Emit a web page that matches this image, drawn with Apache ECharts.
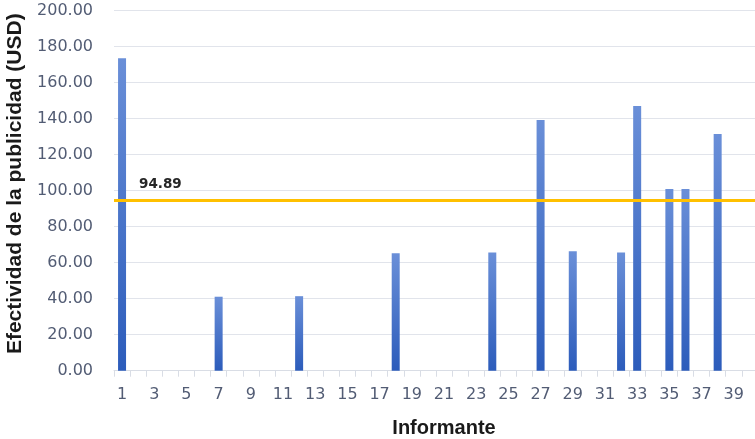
<!DOCTYPE html>
<html>
<head>
<meta charset="utf-8">
<script src="https://cdn.jsdelivr.net/npm/echarts@6/dist/echarts.min.js"></script>
<style>
  html, body { margin: 0; padding: 0; background: #ffffff; overflow: hidden; }
  #chart { width: 755px; height: 439px; }
</style>
</head>
<body>
<div id="chart"></div>
<script>
// Informant numbers along the x axis
const informantes = Array.from({ length: 41 }, (_, i) => String(i + 1));

// Advertising effectiveness per informant (USD); zero where no value was recorded
const efectividad = [
  173.6, 0, 0, 0, 0, 0, 41.1, 0, 0, 0,
  0, 41.4, 0, 0, 0, 0, 0, 65.3, 0, 0,
  0, 0, 0, 65.6, 0, 0, 139.3, 0, 66.3, 0,
  0, 65.6, 147.1, 0, 100.9, 100.9, 0, 131.5, 0, 0,
  0
];

// Average effectiveness, drawn as a reference line
const promedio = [94.89];

// Y axis range
const yMin = 0, yMax = 200, yStep = 20;

const chart = echarts.init(document.getElementById('chart'), null, { renderer: 'canvas' });

chart.setOption({
  backgroundColor: '#ffffff',
  animation: false,
  // plot area runs past the right edge of the canvas
  grid: {
    left: 114, width: 660, top: 10.7, bottom: 68.3,
    containLabel: false, outerBoundsMode: 'none'
  },
  xAxis: {
    type: 'category',
    data: informantes,
    name: 'Informante',
    nameLocation: 'middle',
    nameGap: 48,
    nameTextStyle: {
      fontFamily: 'Liberation Sans', fontWeight: 'bold', fontSize: 20, color: '#1a1a1a'
    },
    axisLine: { show: true, lineStyle: { color: '#d9dde5', width: 1 } },
    axisTick: { show: true, interval: 0, length: 6, inside: false, lineStyle: { color: '#d9dde5' } },
    axisLabel: {
      interval: 1, margin: 16, fontFamily: 'DejaVu Sans', fontSize: 16, color: '#525c74',
      hideOverlap: false
    },
    splitLine: { show: false }
  },
  yAxis: {
    type: 'value',
    min: yMin, max: yMax, interval: yStep,
    name: 'Efectividad de la publicidad (USD)',
    nameLocation: 'middle',
    nameGap: 80,
    nameRotate: 90,
    nameTextStyle: {
      fontFamily: 'Liberation Sans', fontWeight: 'bold', fontSize: 21, color: '#1a1a1a',
      padding: [0, 0, 0, 14]
    },
    axisLine: { show: false },
    axisTick: { show: false },
    axisLabel: {
      margin: 21, fontFamily: 'DejaVu Sans', fontSize: 16, color: '#525c74',
      formatter: v => v.toFixed(2)
    },
    splitLine: { show: true, lineStyle: { color: '#e1e4eb', width: 1.2 } }
  },
  series: [{
    type: 'bar',
    data: efectividad,
    barWidth: 8,
    itemStyle: {
      color: new echarts.graphic.LinearGradient(0, 0, 0, 1, [
        { offset: 0, color: '#6a8fd8' },
        { offset: 1, color: '#2c5cbb' }
      ])
    },
    markLine: {
      silent: true,
      symbol: 'none',
      lineStyle: { color: '#ffc000', width: 3, type: 'solid' },
      label: {
        show: true,
        position: 'insideStartTop',
        distance: [25, 8],
        formatter: p => p.value.toFixed(2),
        fontFamily: 'DejaVu Sans', fontWeight: 'bold', fontSize: 13.5, color: '#262626'
      },
      data: [{ yAxis: promedio[0] }]
    }
  }]
});
</script>
</body>
</html>
